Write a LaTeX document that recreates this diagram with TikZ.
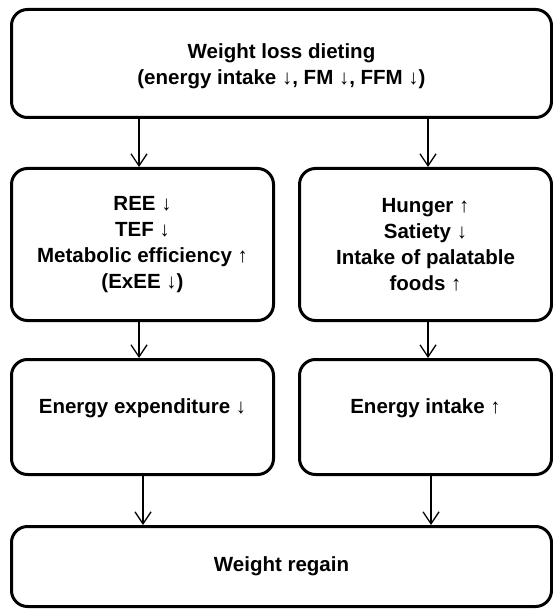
\documentclass[tikz,border=0pt]{standalone}
\usepackage{fontspec}
\setmainfont{Liberation Sans}
\usetikzlibrary{arrows.meta}
\begin{document}
\begin{tikzpicture}[x=1pt,y=-1pt,
  txt/.style={align=center,font=\fontsize{20.5}{26}\selectfont\bfseries,inner sep=0pt},
  box/.style={draw=black,line width=3pt,rounded corners=16pt,txt,anchor=north west},
  conn/.style={draw=black,line width=1.3pt,-{Straight Barb[length=12pt,width=16pt,line width=1.3pt]}}]
\useasboundingbox (0,0) rectangle (552,609);
\node[box,minimum width=540pt,minimum height=108pt,
  label={[txt,yshift=-3pt]center:Weight loss dieting\\(energy intake ↓, FM ↓, FFM ↓)}] (top) at (10,8) {};
\node[box,minimum width=262pt,minimum height=152pt] (ml) at (10,167)
  {REE ↓\\TEF ↓\\Metabolic efficiency ↑\\(ExEE ↓)};
\node[box,minimum width=252pt,minimum height=152pt] (mr) at (298,167)
  {Hunger ↑\\Satiety ↓\\Intake of palatable\\foods ↑};
\node[box,minimum width=262pt,minimum height=115pt] (ll) at (10,358)
  {Energy expenditure ↓\\[-4pt]\mbox{}};
\node[box,minimum width=252pt,minimum height=115pt] (lr) at (298,358)
  {Energy intake ↑\\[-4pt]\mbox{}};
\node[box,minimum width=540pt,minimum height=80pt] (bot) at (10,525)
  {Weight regain};
\coordinate (a1) at (139,116); \coordinate (a2) at (428,116);
\draw[conn] (a1) -- (a1 |- ml.north);
\draw[conn] (a2) -- (a2 |- mr.north);
\draw[conn] (a1 |- ml.south) -- (a1 |- ll.north);
\draw[conn] (a2 |- mr.south) -- (a2 |- lr.north);
\coordinate (b1) at (143,473); \coordinate (b2) at (431,473);
\draw[conn] (b1) -- (b1 |- bot.north);
\draw[conn] (b2) -- (b2 |- bot.north);
\end{tikzpicture}
\end{document}
